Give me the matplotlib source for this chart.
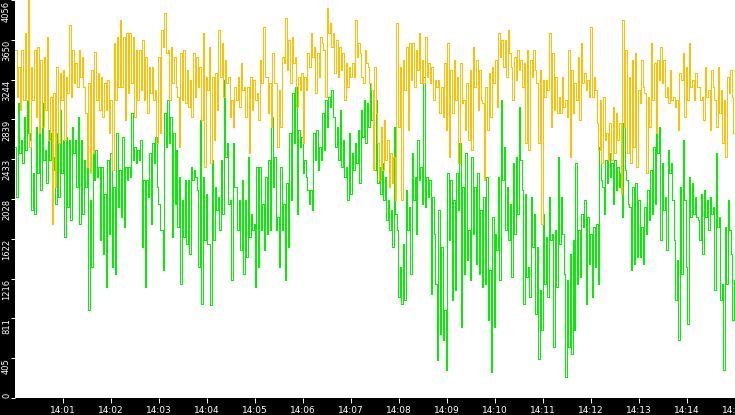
import numpy as np
import matplotlib
matplotlib.use("Agg")
import matplotlib.pyplot as plt

# ---- data (values alternate local high / low of each burst) ----
yellow_values = [
    # 14:00:00 - 14:03:45
    3546, 3070, 3376, 2934, 3546, 3036, 3716, 3036, 4056, 2560, 3376, 3036, 3546, 2866, 3580, 2696,
    3444, 2764, 3478, 2934, 3682, 2628, 3070, 1778, 3104, 2152, 3376, 2594, 3308, 3036, 3342, 2628,
    3274, 3104, 3801, 3070, 3546, 3206, 3410, 3172, 3546, 3274, 3478, 3172, 2900, 2356, 3206, 2288,
    3342, 2492, 3529, 3036, 3308, 2934, 3274, 2866, 3206, 2934, 3240, 2696, 3036, 2322, 3614, 3036,
    3682, 3172, 3852, 3172, 3682, 2832, 3716, 3104, 3716, 3206, 3682, 2866, 3546, 3036, 3546, 3138,
    3648, 3036, 3478, 2900, 3376, 3104, 3376, 3036, 3138, 2594, 3478, 2696, 3750, 3580, 3920, 3512,
    3546, 3036, 3580, 3206, 3478, 3172, 3070, 2560, 3512, 3036, 3546, 3002, 3342, 2968, 3240, 2866,
    # 14:03:45 - 14:07:30
    3512, 3070, 3478, 3172, 3376, 2832, 3716, 2356, 3274, 3138, 3580, 2390, 3274, 2628, 3308, 2934,
    3750, 3274, 3614, 3070, 3444, 3206, 3274, 2866, 3036, 2764, 3172, 3036, 3274, 2968, 3410, 3138,
    3172, 2866, 3172, 2492, 3274, 2934, 3240, 3036, 3104, 2832, 3444, 3206, 3784, 3274, 3274, 2900,
    3206, 2764, 3512, 3206, 3206, 2560, 3138, 2764, 3478, 3410, 3869, 3342, 3648, 3206, 3682, 3410,
    3478, 2968, 3274, 3138, 3308, 2594, 3274, 3138, 3512, 3376, 3716, 3478, 3580, 3104, 3512, 3274,
    3682, 3614, 3546, 3070, 3971, 3716, 3818, 3580, 3716, 3308, 3648, 3274, 3580, 3342, 3512, 3036,
    3410, 3172, 3376, 3274, 3410, 3274, 3852, 3478, 3614, 3512, 3274, 3206, 3546, 3410, 3376, 3206,
    # 14:07:30 - 14:11:15
    3138, 2322, 3376, 2900, 2594, 2220, 2764, 2322, 2832, 2424, 2628, 2152, 2492, 2186, 2458, 2016,
    3818, 2764, 3376, 2016, 3444, 3138, 3580, 2730, 3614, 3240, 3614, 3172, 3546, 3342, 3716, 3206,
    3444, 3206, 3682, 3274, 3410, 3206, 3376, 3036, 3240, 3172, 3240, 2900, 3172, 2866, 3410, 2730,
    3614, 2458, 3342, 2900, 3444, 3036, 3274, 2390, 3410, 3002, 3036, 2730, 3206, 2628, 3342, 2526,
    3580, 3172, 3444, 2934, 3342, 3036, 3002, 2220, 3172, 2730, 3308, 2866, 3376, 3206, 3444, 2968,
    3716, 3478, 3648, 3376, 3648, 3274, 3750, 3512, 3376, 3036, 3478, 3240, 3546, 3342, 3444, 3172,
    3410, 2594, 3546, 2526, 3444, 3274, 3546, 3342, 3206, 2594, 3342, 1778, 3240, 3070, 3240, 3138,
    # 14:11:15 - 14:15:00
    3716, 2764, 3512, 2934, 3274, 2900, 3070, 2900, 3274, 2968, 3036, 2866, 3546, 2458, 3342, 2900,
    3206, 3036, 3478, 2832, 3614, 3206, 3308, 3138, 3240, 3070, 3784, 3070, 3274, 3138, 2798, 2526,
    3036, 2390, 3070, 2628, 2696, 2424, 2798, 2424, 2968, 2492, 2900, 2628, 2798, 2084, 3852, 2764,
    3546, 2492, 3274, 2390, 3444, 2560, 3512, 2356, 3138, 3002, 3444, 3172, 3104, 2288, 3070, 2764,
    3614, 3036, 3410, 2696, 3444, 3240, 3580, 3206, 3444, 3070, 3172, 3002, 3342, 3036, 3070, 2968,
    3036, 2730, 3308, 3240, 3512, 2866, 3376, 3036, 3614, 3172, 3240, 3036, 3308, 3172, 3172, 3036,
    3070, 2832, 3376, 3070, 3138, 2730, 3342, 3172, 3036, 2764, 3376, 2900, 3138, 2594, 3036, 2458,
    3274, 3104, 3342, 3070, 2696, 0,
]

green_values = [
    # 14:00:00 - 14:03:45
    2560, 2050, 3002, 2492, 2628, 2390, 2866, 2526, 3036, 2696, 2628, 1914, 2288, 1880, 2764, 2288,
    2696, 2118, 3002, 2424, 2526, 2186, 2730, 2424, 2696, 2322, 2458, 1982, 2696, 2050, 2934, 2288,
    2628, 1642, 2662, 1948, 2628, 1812, 2764, 2492, 2628, 2152, 2866, 1778, 2628, 1880, 2424, 2152,
    2458, 894, 2016, 1336, 2628, 2220, 2526, 2254, 2356, 1608, 2356, 1472, 2084, 1132, 2424, 1676,
    2492, 1336, 2152, 1268, 2696, 1948, 2322, 1846, 2662, 1744, 2356, 2220, 2356, 2254, 2900, 2424,
    2560, 2390, 2526, 2424, 2628, 1540, 2220, 1132, 2220, 2050, 2492, 1778, 2594, 2390, 2662, 2152,
    1982, 1710, 1710, 1302, 2900, 2560, 3036, 2594, 2866, 1642, 2696, 1982, 2526, 1744, 2254, 1166,
    2016, 1642, 2220, 1574, 2220, 1472,
    # 14:03:45 - 14:07:30
    2356, 2220, 2322, 2254, 2118, 1336, 2832, 962, 2254, 1608, 2084, 1574, 1574, 945, 2424, 1608,
    2152, 1914, 2050, 1710, 2424, 1880, 3240, 2458, 2594, 1982, 2016, 1200, 2594, 2152, 2152, 1710,
    2016, 1506, 2220, 1268, 2016, 1438, 2458, 1642, 1880, 1710, 1778, 1132, 2356, 1336, 2356, 1710,
    1982, 1506, 2254, 1676, 2424, 1710, 2866, 2152, 2458, 1710, 1846, 1336, 2356, 1710, 1982, 1200,
    2186, 1540, 2696, 2016, 3104, 2594, 3172, 1880, 2730, 2560, 2662, 2288, 2424, 2254, 2118, 1982,
    2118, 1914, 2696, 2424, 2730, 2322, 2560, 2424, 2900, 2526, 3036, 2764, 3070, 2968, 3138, 2866,
    2866, 2560, 2764, 2424, 2934, 2356, 2628, 2254, 2356, 2016, 2696, 2084, 2492, 2322, 2594, 2390,
    2730, 2186, 2934, 2662, 3036, 2594, 3002, 2764, 3206, 2832,
    # 14:07:30 - 14:11:15
    2492, 2322, 3036, 2186, 2356, 2084, 2390, 2016, 2254, 1812, 2016, 1710, 1914, 1540, 2764, 1880,
    1710, 1030, 1336, 962, 1574, 996, 2118, 1710, 1948, 1268, 2492, 2016, 2254, 1676, 2628, 2220,
    2356, 1982, 3274, 1948, 2254, 2050, 2220, 1064, 2050, 1676, 1166, 384, 1914, 656, 1540, 588,
    894, 282, 2288, 1608, 2220, 996, 2016, 1098, 2288, 1914, 2594, 724, 2152, 1268, 2492, 1404,
    1710, 1200, 2458, 1676, 2152, 1370, 2288, 1268, 1914, 1132, 2050, 1166, 2254, 792, 1302, 265,
    1846, 724, 1676, 1506, 2254, 1200, 3036, 2220, 2560, 1710, 2152, 1608, 1982, 1234, 2390, 1676,
    2458, 1880, 2968, 2424, 2118, 962, 2084, 1234, 1336, 1030, 2050, 1540, 1880, 860, 1540, 401,
    1098, 690, 1880, 1166, 1642, 1030,
    # 14:11:15 - 14:15:00
    2050, 1608, 1676, 520, 1710, 1132, 2458, 1574, 2050, 1676, 1268, 214, 1200, 520, 1472, 452,
    1608, 690, 2390, 1166, 1710, 1234, 1880, 1744, 2016, 962, 1846, 1370, 1676, 1030, 1744, 1336,
    1778, 1166, 2560, 2220, 2152, 1880, 2424, 2186, 2492, 2254, 2390, 1982, 2424, 2118, 2356, 2152,
    2288, 1846, 2798, 2322, 2220, 1982, 1948, 1302, 2152, 1370, 2186, 1438, 2016, 1438, 1744, 1370,
    1948, 1676, 2118, 1812, 2322, 1880, 2560, 1982, 3036, 2492, 2764, 1608, 2390, 1914, 2050, 1506,
    2526, 2288, 2390, 2016, 1608, 996, 1404, 588, 2152, 1268, 2628, 2016, 1336, 758, 2254, 1846,
    2186, 1880, 2050, 1846, 1812, 1608, 2084, 1472, 2118, 1846, 2016, 1710, 2050, 1880, 1948, 1098,
    2492, 1744, 1846, 996, 1166, 282, 1744, 1166, 2016, 1710, 1472, 792, 1200, 877,
]

y_ticks = [0, 405.6, 811.2, 1216.8, 1622.4, 2028, 2433.6, 2839.2, 3244.8, 3650.4, 4056]
y_tick_labels = ["0", "405", "811", "1216", "1622", "2028", "2433", "2839", "3244", "3650", "4056"]
x_ticks = [60, 120, 180, 240, 300, 360, 420, 480, 540, 600, 660, 720, 780, 840, 900]
x_tick_labels = ["14:01", "14:02", "14:03", "14:04", "14:05", "14:06", "14:07", "14:08",
                 "14:09", "14:10", "14:11", "14:12", "14:13", "14:14", "14:15"]

# ---- figure ----
W, H = 735, 415
fig = plt.figure(figsize=(W / 100, H / 100), dpi=100, facecolor="black")
left_px, bottom_px, top_px = 15, 17, 0
ax = fig.add_axes([left_px / W, bottom_px / H, (W - left_px) / W, (H - bottom_px - top_px) / H])
ax.set_facecolor("white")
for s in ax.spines.values():
    s.set_visible(False)

xg = np.linspace(0, 900, len(green_values))
xy = np.linspace(0, 900, len(yellow_values))
lw = 72 / 100  # one pixel
ax.plot(xg, green_values, color="#00f000", lw=lw, drawstyle="steps-post", antialiased=False)
ax.plot(xy, yellow_values, color="#ffc000", lw=lw, drawstyle="steps-post", antialiased=False)

ax.set_xlim(0, 900)
ax.set_ylim(0, 4056)

ax.set_xticks(x_ticks)
ax.set_xticklabels(x_tick_labels, fontsize=6.5, color="white", family="DejaVu Sans")
ax.tick_params(axis="x", colors="white", length=5 * 0.72, width=lw, pad=2.2)

ax.set_yticks(y_ticks)
ax.set_yticklabels([])
ax.tick_params(axis="y", colors="white", length=4 * 0.72, width=lw, direction="out")

# rotated y labels in the left band: each hangs down from its tick
plot_h = H - bottom_px - top_px
for v, lab in zip(y_ticks, y_tick_labels):
    p = top_px + plot_h * (1 - v / 4056.0)          # tick pixel from top
    p = min(max(p, 1), 400)
    fig.text(6.5 / W, 1 - p / H, lab, rotation=90, ha="center",
             va="top" if p < 395 else "bottom",
             fontsize=6, color="white", family="DejaVu Sans")

fig.savefig("out.png", dpi=100, facecolor="black")
